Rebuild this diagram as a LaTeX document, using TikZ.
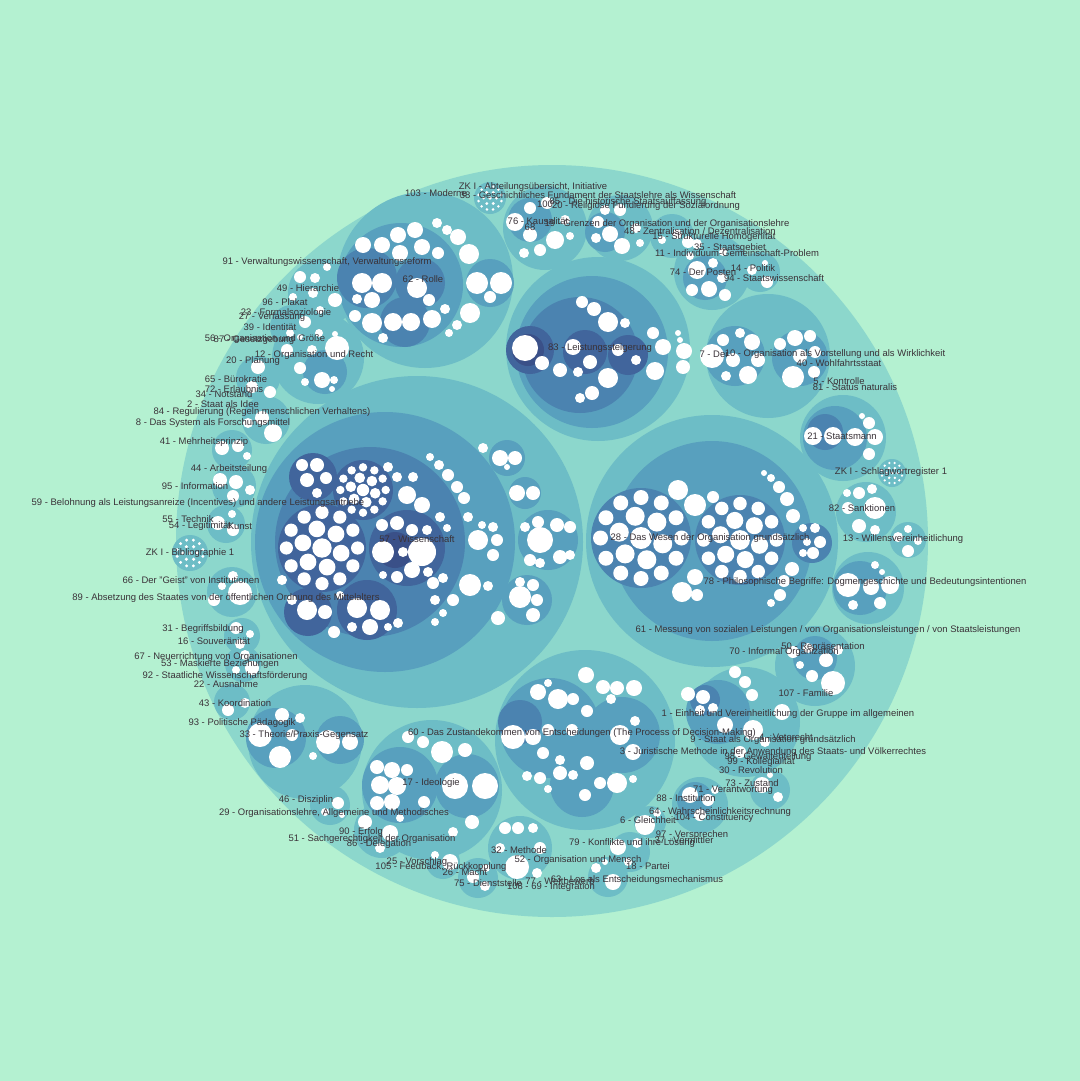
\documentclass[tikz,border=0pt]{standalone}
\usepackage{fontspec}
\setmainfont{Liberation Sans}

\tikzset{every picture/.style={line width=0.75pt}}
\tikzset{
  lv0/.style={fill={rgb, 255:red, 180; green, 241; blue, 209 }},
  lv1/.style={fill={rgb, 255:red, 140; green, 215; blue, 204 }},
  lv2/.style={fill={rgb, 255:red, 109; green, 189; blue, 198 }},
  lv3/.style={fill={rgb, 255:red, 88; green, 160; blue, 190 }},
  lv4/.style={fill={rgb, 255:red, 75; green, 131; blue, 176 }},
  lv5/.style={fill={rgb, 255:red, 65; green, 101; blue, 156 }},
  lv6/.style={fill={rgb, 255:red, 58; green, 80; blue, 136 }},
  lbl/.style={font=\fontsize{7.1}{8}\selectfont, text={rgb, 255:red, 58; green, 50; blue, 56 }, inner sep=0pt},
}

% dense bunch of leaves
\newcommand\swarm[3]{%
  \fill[white] (#1,#2) circle ({0.22*#3});
  \foreach \a in {15,75,...,315} \fill[white,shift={(#1,#2)}] (\a:{0.45*#3}) circle ({0.19*#3});
  \foreach \a in {0,30,...,330} \fill[white,shift={(#1,#2)}] (\a:{0.81*#3}) circle ({0.15*#3});
}
% dotted register circle
\newcommand\zkdots[3]{%
  \fill[white] (#1,#2) circle ({0.11*#3});
  \foreach \a in {0,60,...,300} \fill[white,shift={(#1,#2)}] (\a:{0.4*#3}) circle ({0.1*#3});
  \foreach \a in {15,45,...,345} \fill[white,shift={(#1,#2)}] (\a:{0.74*#3}) circle ({0.09*#3});
}

\begin{document}
\begin{tikzpicture}[x=0.75pt,y=0.75pt,yscale=-1,xscale=1]
\path[use as bounding box, lv0] (0,0) rectangle (1080,1081);

%Shape: Circle [root]
\fill[lv1] (552,541) circle (376);

%Shape: Circles [level 2]
\foreach \x/\y/\r in {417/542/166, 712/541/126, 598/349/92, 425/280/88, 768/356/62,
  432/790/70, 585/740/90, 745/722/55, 305/742/57, 318/358/46, 843/438/43, 866/512/30,
  908/540/18, 868/588/36, 815/666/40, 520/848/32, 700/805/28, 650/822/16, 770/790/20,
  630/852/20, 608/877/20, 478/878/20, 443/862/17, 382/830/28, 330/805/20, 322/293/34,
  292/327/22, 258/378/22, 266/420/24, 232/450/20, 234/486/22, 226/524/19, 232/592/25,
  242/636/18, 243/664/18, 232/702/18, 712/272/38, 760/272/20, 672/236/22, 620/228/33,
  545/228/42, 892/473/14, 490/198/16, 190/553/18}
  \fill[lv2] (\x,\y) circle (\r);

%Shape: Circles [level 3]
\foreach \x/\y/\r in {385/542/130, 712/541/100, 592/352/76, 401/285/62, 735/356/30,
  800/358/28, 400/785/38, 467/786/32, 550/728/50, 622/735/38, 582/785/32, 718/712/32,
  276/738/30, 340/740/24, 325/372/22, 835/438/32, 860/588/27, 815/658/22, 695/800/18,
  507/458/18, 525/493/16, 487/540/22, 548/540/30, 527/600/25, 470/587/17, 490/283/24,
  530/220/22, 605/232/20, 705/278/22}
  \fill[lv3] (\x,\y) circle (\r);

%Shape: Circles [level 4]
\foreach \x/\y/\r in {370/542/95, 580/355/58, 367/278/30, 420/283/25, 405/322/25,
  641/538/50, 740/540/45, 812/543/20, 520/722/22, 705/700/15, 825/432/18}
  \fill[lv4] (\x,\y) circle (\r);

%Shape: Circles [level 5]
\foreach \x/\y/\r in {322/548/44, 407/548/38, 363/490/30, 313/477/24, 367/610/30,
  308/612/24, 530/350/24, 585/352/22, 628/355/20}
  \fill[lv5] (\x,\y) circle (\r);
\foreach \x/\y/\r in {395/550/18, 528/350/16}
  \fill[lv6] (\x,\y) circle (\r);

%Shape: Leaves [57]
\swarm{322}{548}{44}
\swarm{363}{490}{28}
\foreach \x/\y/\r in {383/552/11, 422/552/14, 403/552/5, 382/525/6, 397/523/7, 412/530/6,
  427/530/5, 412/570/8, 397/577/6, 383/575/4, 428/572/5, 302/465/6, 317/465/7, 307/480/7,
  326/478/6, 317/493/5, 357/608/10, 380/610/10, 370/627/8, 352/627/5, 388/627/4, 398/623/5,
  340/595/4, 307/610/10, 325/612/7, 334/632/6, 292/600/5, 282/580/5, 407/495/9, 422/505/8,
  397/477/5, 413/477/5, 388/467/5, 440/517/5, 447/528/4, 433/583/6, 443/578/5, 435/600/5,
  483/448/5, 500/458/8, 515/458/7, 507/467/3, 517/493/8, 533/493/7, 478/540/10, 497/540/6,
  493/555/6, 482/525/4, 493/527/5, 540/540/13, 557/525/7, 570/527/6, 560/557/7, 570/555/5,
  538/522/6, 525/527/5, 530/560/6, 540/563/5, 520/597/11, 537/600/6, 533/585/6, 520/582/5,
  533/615/7, 470/585/11, 488/586/5, 498/618/7, 430/457/4, 439/465/5, 448/475/6, 457/487/6,
  464/498/6, 468/517/5, 453/600/6, 443/613/4, 435/622/4}
  \fill[white] (\x,\y) circle (\r);

%Shape: Leaves [28]
\swarm{641}{538}{50}
\swarm{740}{540}{45}
\foreach \x/\y/\r in {678/490/10, 695/505/11, 713/497/6, 695/577/8, 682/592/10, 697/595/6,
  764/473/3, 771/478/4, 779/487/6, 787/499/7, 793/516/7, 792/569/7, 784/581/6, 780/595/6,
  771/603/4, 803/528/4, 815/528/5, 820/542/6, 813/553/6, 803/553/4, 807/542/4}
  \fill[white] (\x,\y) circle (\r);

%Shape: Leaves [83]
\foreach \x/\y/\r in {525/348/13, 573/347/8, 590/362/7, 578/372/5, 618/350/6, 636/360/5,
  582/302/6, 594/309/7, 608/322/10, 625/323/5, 653/333/6, 678/333/3, 680/340/3, 663/347/8,
  684/351/8, 655/371/9, 683/367/7, 608/378/10, 592/393/7, 580/398/5, 560/370/7, 542/363/7}
  \fill[white] (\x,\y) circle (\r);

%Shape: Leaves [62]
\foreach \x/\y/\r in {363/245/8, 382/245/8, 398/235/8, 415/230/8, 422/247/8, 438/253/6,
  437/223/5, 447/230/5, 458/237/8, 469/254/10, 400/253/8, 362/283/10, 382/283/10, 357/299/5,
  372/300/8, 417/288/10, 429/300/6, 393/322/9, 411/322/9, 432/319/9, 445/309/5, 470/313/10,
  457/325/5, 449/333/4, 372/323/10, 355/316/6, 383/338/5, 477/283/11, 501/283/11, 490/297/6}
  \fill[white] (\x,\y) circle (\r);

%Shape: Leaves [7, 10]
\foreach \x/\y/\r in {712/356/12, 723/340/6, 740/333/5, 752/342/8, 733/360/7, 758/360/7,
  748/375/9, 780/344/6, 795/338/8, 810/336/6, 815/352/6, 800/356/7, 793/377/11, 814/372/6,
  726/376/5}
  \fill[white] (\x,\y) circle (\r);

%Shape: Leaves [17]
\foreach \x/\y/\r in {377/767/7, 392/770/8, 407/770/6, 380/785/9, 397/786/9, 377/803/7,
  392/802/8, 424/802/6, 455/786/13, 485/786/13, 442/752/11, 423/742/6, 408/737/6, 465/750/7,
  472/822/7, 453/832/5}
  \fill[white] (\x,\y) circle (\r);

%Shape: Leaves [60]
\foreach \x/\y/\r in {538/692/8, 558/699/10, 573/699/6, 548/683/4, 587/711/6, 586/675/8,
  603/687/7, 617/688/7, 634/688/8, 611/699/5, 513/737/12, 533/737/8, 548/730/6, 572/730/6,
  543/753/6, 620/735/10, 635/721/5, 633/752/8, 560/760/5, 587/763/7, 527/776/5, 540/778/6,
  560/773/7, 573/775/5, 548/789/4, 617/783/10, 600/783/6, 585/795/6, 633/779/4}
  \fill[white] (\x,\y) circle (\r);

%Shape: Leaves [1]
\foreach \x/\y/\r in {688/694/7, 703/697/7, 713/708/5, 700/710/5, 735/672/6, 745/682/6,
  752/695/6, 753/730/10, 782/712/8, 765/742/5, 725/725/8, 740/752/6}
  \fill[white] (\x,\y) circle (\r);

%Shape: Leaves [33, 12, 21]
\foreach \x/\y/\r in {282/715/7, 260/735/12, 280/757/11, 292/735/6, 328/742/12, 350/742/8,
  313/756/4, 300/718/5, 337/348/12, 300/368/6, 322/380/8, 334/380/4, 332/389/3, 305/382/4,
  319/333/4, 335/334/3, 287/350/6, 312/350/5, 813/436/9, 833/436/9, 855/437/9, 875/437/8,
  869/423/6, 862/416/3, 869/454/6}
  \fill[white] (\x,\y) circle (\r);

%Shape: Leaves [right rim]
\foreach \x/\y/\r in {847/493/4, 859/493/6, 872/489/5, 848/508/6, 875/508/11, 859/526/7,
  875/530/5, 898/537/5, 908/529/4, 908/551/6, 918/541/4, 848/585/12, 871/587/8, 890/585/9,
  875/565/4, 882/572/3, 880/603/6, 853/605/5, 793/652/6, 808/648/5, 826/660/7, 800/665/4,
  833/683/12, 838/650/5, 812/676/6}
  \fill[white] (\x,\y) circle (\r);

%Shape: Leaves [bottom rim]
\foreach \x/\y/\r in {505/828/6, 518/828/6, 533/828/5, 517/867/12, 537/873/5, 500/848/5,
  540/848/6, 690/795/8, 708/800/6, 700/815/6, 715/790/4, 645/825/10, 657/813/4, 762/785/8,
  778/797/5, 770/775/3, 618/847/8, 637/843/5, 628/862/4, 613/882/8, 596/868/5, 605/862/3,
  473/877/6, 485/886/5, 486/868/4, 450/862/8, 435/855/4, 365/822/7, 390/833/8, 400/818/4,
  380/848/5, 338/803/6, 325/812/4, 342/815/3}
  \fill[white] (\x,\y) circle (\r);

%Shape: Leaves [left rim]
\foreach \x/\y/\r in {300/277/6, 315/278/5, 327/267/4, 313/293/5, 293/297/4, 335/300/7,
  320/310/4, 305/322/6, 290/333/4, 300/337/3, 258/367/7, 252/387/6, 270/392/6, 273/433/9,
  262/418/7, 248/423/5, 222/448/7, 238/446/6, 247/456/4, 220/480/7, 236/482/7, 233/496/6,
  250/490/5, 218/523/7, 233/530/6, 232/514/4, 240/593/12, 233/576/5, 214/600/6, 222/586/4,
  236/628/6, 250/634/4, 240/644/5, 245/655/5, 252/668/7, 236/670/4, 228/710/6, 245/703/5}
  \fill[white] (\x,\y) circle (\r);

%Shape: Leaves [top rim]
\foreach \x/\y/\r in {697/270/9, 713/263/5, 692/290/6, 709/289/8, 722/278/5, 725/295/6,
  690/256/4, 697/244/5, 723/252/4, 767/282/6, 752/270/5, 765/263/3, 677/234/5, 688/242/6,
  662/240/4, 598/222/6, 610/234/8, 622/246/8, 596/238/5, 605/210/5, 620/210/6, 636/228/5,
  640/243/4, 515/222/9, 530/208/6, 530/235/7, 555/240/9, 540/250/6, 524/253/5, 547/203/6,
  565/220/5, 570/236/4}
  \fill[white] (\x,\y) circle (\r);

%Shape: Register circles [ZK I]
\zkdots{892}{473}{14}
\zkdots{490}{198}{16}
\zkdots{190}{553}{18}

% Text Node
\node[lbl] (zkab) at (533,187) {ZK I - Abteilungsübersicht, Initiative};
\node[lbl] (l103) at (436,193) {103 - Moderne};
\node[lbl] (l38) at (598,195) {38 - Geschichtliches Fundament der Staatslehre als Wissenschaft};
\node[lbl] (l100) at (545,204) {100};
\node[lbl] (l85) at (628,202) {85 - Die historische Staatsauffassung};
\node[lbl] (l20b) at (646,206) {20 - Religiöse Fundierung der Sozialordnung};
\node[lbl] (l76) at (538,221) {76 - Kausalität};
\node[lbl] (l68) at (530,227) {68};
\node[lbl] (l19) at (667,224) {19 - Grenzen der Organisation und der Organisationslehre};
\node[lbl] (l48) at (700,231) {48 - Zentralisation / Dezentralisation};
\node[lbl] (l15) at (714,237) {15 - Strukturelle Homogenität};
\node[lbl] (l35) at (730,248) {35 - Staatsgebiet};
\node[lbl] (l11) at (737,253) {11 - Individuum-Gemeinschaft-Problem};
\node[lbl] (l74) at (703,272) {74 - Der Posten};
\node[lbl] (l14) at (753,268) {14 - Politik};
\node[lbl] (l94) at (774,278) {94 - Staatswissenschaft};
\node[lbl] (l83) at (600,348) {83 - Leistungssteigerung};
\node[lbl] (l7) at (714,354) {7 - Der};
\node[lbl] (l10) at (835,354) {10 - Organisation als Vorstellung und als Wirklichkeit};
\node[lbl] (l40) at (839,363) {40 - Wohlfahrtsstaat};
\node[lbl] (l5) at (839,381) {5 - Kontrolle};
\node[lbl] (l81) at (855,387) {81 - Status naturalis};
\node[lbl] (l21) at (842,436) {21 - Staatsmann};
\node[lbl] (zksw) at (891,472) {ZK I - Schlagwortregister 1};
\node[lbl] (l82) at (862,508) {82 - Sanktionen};
\node[lbl] (l13) at (903,539) {13 - Willensvereinheitlichung};
\node[lbl] (l28) at (710,538) {28 - Das Wesen der Organisation grundsätzlich};
\node[lbl] (l78) at (865,582) {78 - Philosophische Begriffe: Dogmengeschichte und Bedeutungsintentionen};
\node[lbl] (l61) at (828,630) {61 - Messung von sozialen Leistungen / von Organisationsleistungen / von Staatsleistungen};
\node[lbl] (l70) at (784,652) {70 - Informal Organization};
\node[lbl] (l50) at (823,647) {50 - Repräsentation};
\node[lbl] (l107) at (806,693) {107 - Familie};
\node[lbl] (l1) at (788,714) {1 - Einheit und Vereinheitlichung der Gruppe im allgemeinen};
\node[lbl] (l60) at (582,733) {60 - Das Zustandekommen von Entscheidungen (The Process of Decision-Making)};
\node[lbl] (l4) at (786,737) {4 - Vetorecht};
\node[lbl] (l9) at (773,740) {9 - Staat als Organisation grundsätzlich};
\node[lbl] (l3) at (773,752) {3 - Juristische Methode in der Anwendung des Staats- und Völkerrechtes};
\node[lbl] (l98) at (768,757) {98 - Gewaltenteilung};
\node[lbl] (l99) at (761,762) {99 - Kollegialität};
\node[lbl] (l30) at (751,770) {30 - Revolution};
\node[lbl] (l73) at (752,783) {73 - Zustand};
\node[lbl] (l71) at (733,790) {71 - Verantwortung};
\node[lbl] (l88) at (686,798) {88 - Institution};
\node[lbl] (l64) at (720,812) {64 - Wahrscheinlichkeitsrechnung};
\node[lbl] (l6) at (648,820) {6 - Gleichheit};
\node[lbl] (l104) at (714,818) {104 - Constituency};
\node[lbl] (l97) at (692,835) {97 - Versprechen};
\node[lbl] (l37) at (684,840) {37 - Vermittler};
\node[lbl] (l79) at (632,843) {79 - Konflikte und ihre Lösung};
\node[lbl] (l32) at (519,850) {32 - Methode};
\node[lbl] (l52) at (578,860) {52 - Organisation und Mensch};
\node[lbl] (l18) at (648,866) {18 - Partei};
\node[lbl] (l63) at (637,880) {63 - Los als Entscheidungsmechanismus};
\node[lbl] (l77) at (560,881) {77 - Wettbewerb};
\node[lbl] (l69) at (551,887) {108 - 69 - Integration};
\node[lbl] (l75) at (488,883) {75 - Dienststelle};
\node[lbl] (l25) at (417,862) {25 - Vorschlag};
\node[lbl] (l105) at (441,867) {105 - Feedback, Rückkopplung};
\node[lbl] (l26) at (465,872) {26 - Macht};
\node[lbl] (l90) at (361,832) {90 - Erfolg};
\node[lbl] (l51) at (372,839) {51 - Sachgerechtigkeit der Organisation};
\node[lbl] (l86) at (379,844) {86 - Delegation};
\node[lbl] (l46) at (306,800) {46 - Disziplin};
\node[lbl] (l29) at (334,813) {29 - Organisationslehre, Allgemeine und Methodisches};
\node[lbl] (l17) at (431,783) {17 - Ideologie};
\node[lbl] (l33) at (304,735) {33 - Theorie/Praxis-Gegensatz};
\node[lbl] (l93) at (242,723) {93 - Politische Pädagogik};
\node[lbl] (l43) at (235,703) {43 - Koordination};
\node[lbl] (l22) at (226,684) {22 - Ausnahme};
\node[lbl] (l92) at (225,676) {92 - Staatliche Wissenschaftsförderung};
\node[lbl] (l53) at (220,664) {53 - Maskierte Beziehungen};
\node[lbl] (l67) at (216,657) {67 - Neuerrichtung von Organisationen};
\node[lbl] (l16) at (214,641) {16 - Souveränität};
\node[lbl] (l31) at (203,629) {31 - Begriffsbildung};
\node[lbl] (l89) at (226,598) {89 - Absetzung des Staates von der öffentlichen Ordnung des Mittelalters};
\node[lbl] (l66) at (191,580) {66 - Der "Geist" von Institutionen};
\node[lbl] (zkbib) at (190,553) {ZK I - Bibliographie 1};
\node[lbl] (l54) at (200,526) {54 - Legitimität};
\node[lbl] (lkunst) at (240,526) {Kunst};
\node[lbl] (l55) at (188,519) {55 - Technik};
\node[lbl] (l59) at (198,503) {59 - Belohnung als Leistungsanreize (Incentives) und andere Leistungsantriebe};
\node[lbl] (l95) at (195,486) {95 - Information};
\node[lbl] (l44) at (229,469) {44 - Arbeitsteilung};
\node[lbl] (l41) at (204,442) {41 - Mehrheitsprinzip};
\node[lbl] (l8) at (213,423) {8 - Das System als Forschungsmittel};
\node[lbl] (l84) at (262,412) {84 - Regulierung (Regeln menschlichen Verhaltens)};
\node[lbl] (l2) at (223,404) {2 - Staat als Idee};
\node[lbl] (l34) at (224,394) {34 - Notstand};
\node[lbl] (l72) at (234,389) {72 - Erlaubnis};
\node[lbl] (l65) at (236,379) {65 - Bürokratie};
\node[lbl] (l20) at (253,361) {20 - Planung};
\node[lbl] (l12) at (314,355) {12 - Organisation und Recht};
\node[lbl] (l56) at (265,339) {56 - Organisation und Größe};
\node[lbl] (l87) at (254,340) {87 - Gesetzgebung};
\node[lbl] (l39) at (270,327) {39 - Identität};
\node[lbl] (l27) at (272,317) {27 - Verfassung};
\node[lbl] (l23) at (286,313) {23 - Formalsoziologie};
\node[lbl] (l96) at (285,302) {96 - Plakat};
\node[lbl] (l49) at (308,288) {49 - Hierarchie};
\node[lbl] (l91) at (327,262) {91 - Verwaltungswissenschaft, Verwaltungsreform};
\node[lbl] (l62) at (423,279) {62 - Rolle};
\node[lbl] (l57) at (417,539) {57 - Wissenschaft};

\end{tikzpicture}
\end{document}
